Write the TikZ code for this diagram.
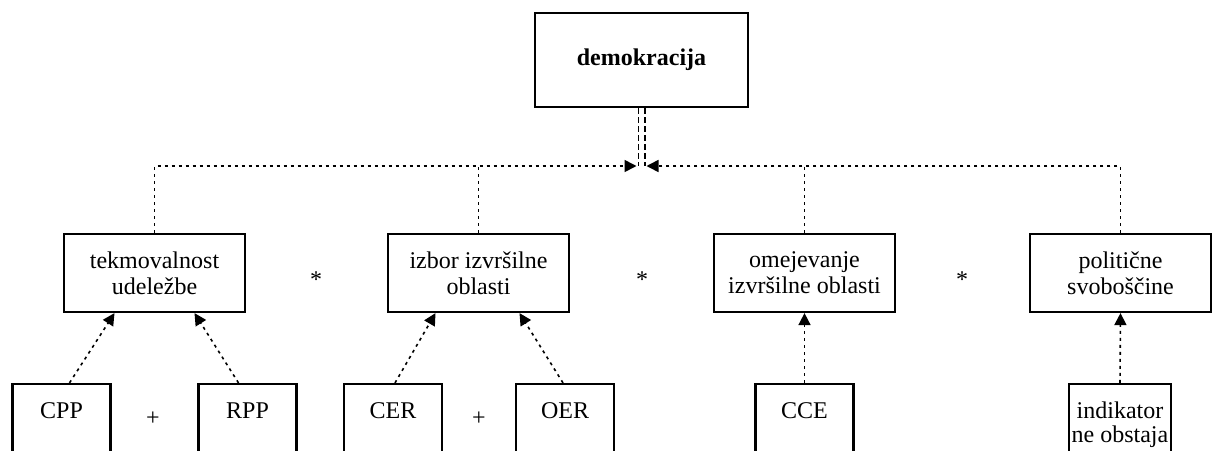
\documentclass[tikz,border=0pt]{standalone}
\usepackage{fontspec}
\setmainfont{Liberation Serif}
\usetikzlibrary{arrows.meta,calc}
\begin{document}
\begin{tikzpicture}[x=1pt,y=-1pt,
  box/.style={draw, line width=2.2pt, align=center, inner sep=0pt,
    font=\fontsize{24}{26}\selectfont},
  topbox/.style={box, minimum width=213, minimum height=94,
    font=\fontsize{24}{26}\selectfont\bfseries},
  midbox/.style={box, minimum width=181, minimum height=78},
  leafbox/.style={box, minimum width=98, minimum height=72,
    text height=16pt, text depth=20pt},
  op/.style={inner sep=0pt, font=\fontsize{24}{26}\selectfont},
  link/.style={line width=1.6pt, dash pattern=on 3pt off 4pt},
  linkarrow/.style={link, -{Triangle[length=12pt,width=12pt]}},
  twin/.style={line width=1.6pt, dash pattern=on 6pt off 3pt}]
\useasboundingbox (0,0) rectangle (1212,450);

% top concept
\node[topbox] (demo) at (641.5,60) {demokracija};

% four components
\node[midbox] (tek) at (154.5,273) {tekmovalnost\\udeležbe};
\node[midbox] (izb) at (478.5,273) {izbor izvršilne\\oblasti};
\node[midbox] (ome) at (804.5,273) {omejevanje\\izvršilne oblasti};
\node[midbox] (pol) at (1120.5,273) {politične\\svoboščine};

\node[op] (s1) at (316,280) {*};
\node[op] (s2) at (642,280) {*};
\node[op] (s3) at (962,280) {*};

% indicators
\node[leafbox] (cpp) at (61.5,420) {CPP};
\node[leafbox] (rpp) at (247.5,420) {RPP};
\node[leafbox] (cer) at (393,420) {CER};
\node[leafbox] (oer) at (565,420) {OER};
\node[leafbox] (cce) at (804.5,420) {CCE};
\node[box, minimum width=102, minimum height=82,
  font=\fontsize{24}{24}\selectfont] (ind) at (1120,425)
  {indikator\\ne obstaja};

\node[op] (p1) at (153,419) {+};
\node[op] (p2) at (479,419) {+};

% junction below the top concept
\coordinate (jl) at (636.5,166);
\coordinate (jr) at (646.5,166);

\draw[twin] ([xshift=-3.2pt]demo.south) -- ([xshift=-3.2pt]demo.south |- jl);
\draw[twin] ([xshift=3.2pt]demo.south) -- ([xshift=3.2pt]demo.south |- jr);

\draw[linkarrow] (tek.north) |- (jl);
\draw[link] (izb.north) -- (izb.north |- jl);
\draw[linkarrow] (pol.north) |- (jr);
\draw[link] (ome.north) -- (ome.north |- jr);

% indicators feeding the components
\draw[linkarrow] ([xshift=8pt]cpp.north) -- ([xshift=-40pt]tek.south);
\draw[linkarrow] ([xshift=-9pt]rpp.north) -- ([xshift=40pt]tek.south);
\draw[linkarrow] ([xshift=2pt]cer.north) -- ([xshift=-43pt]izb.south);
\draw[linkarrow] ([xshift=-2pt]oer.north) -- ([xshift=41pt]izb.south);
\draw[linkarrow] (cce.north) -- (ome.south);
\draw[linkarrow] (ind.north) -- (pol.south);
\end{tikzpicture}
\end{document}
